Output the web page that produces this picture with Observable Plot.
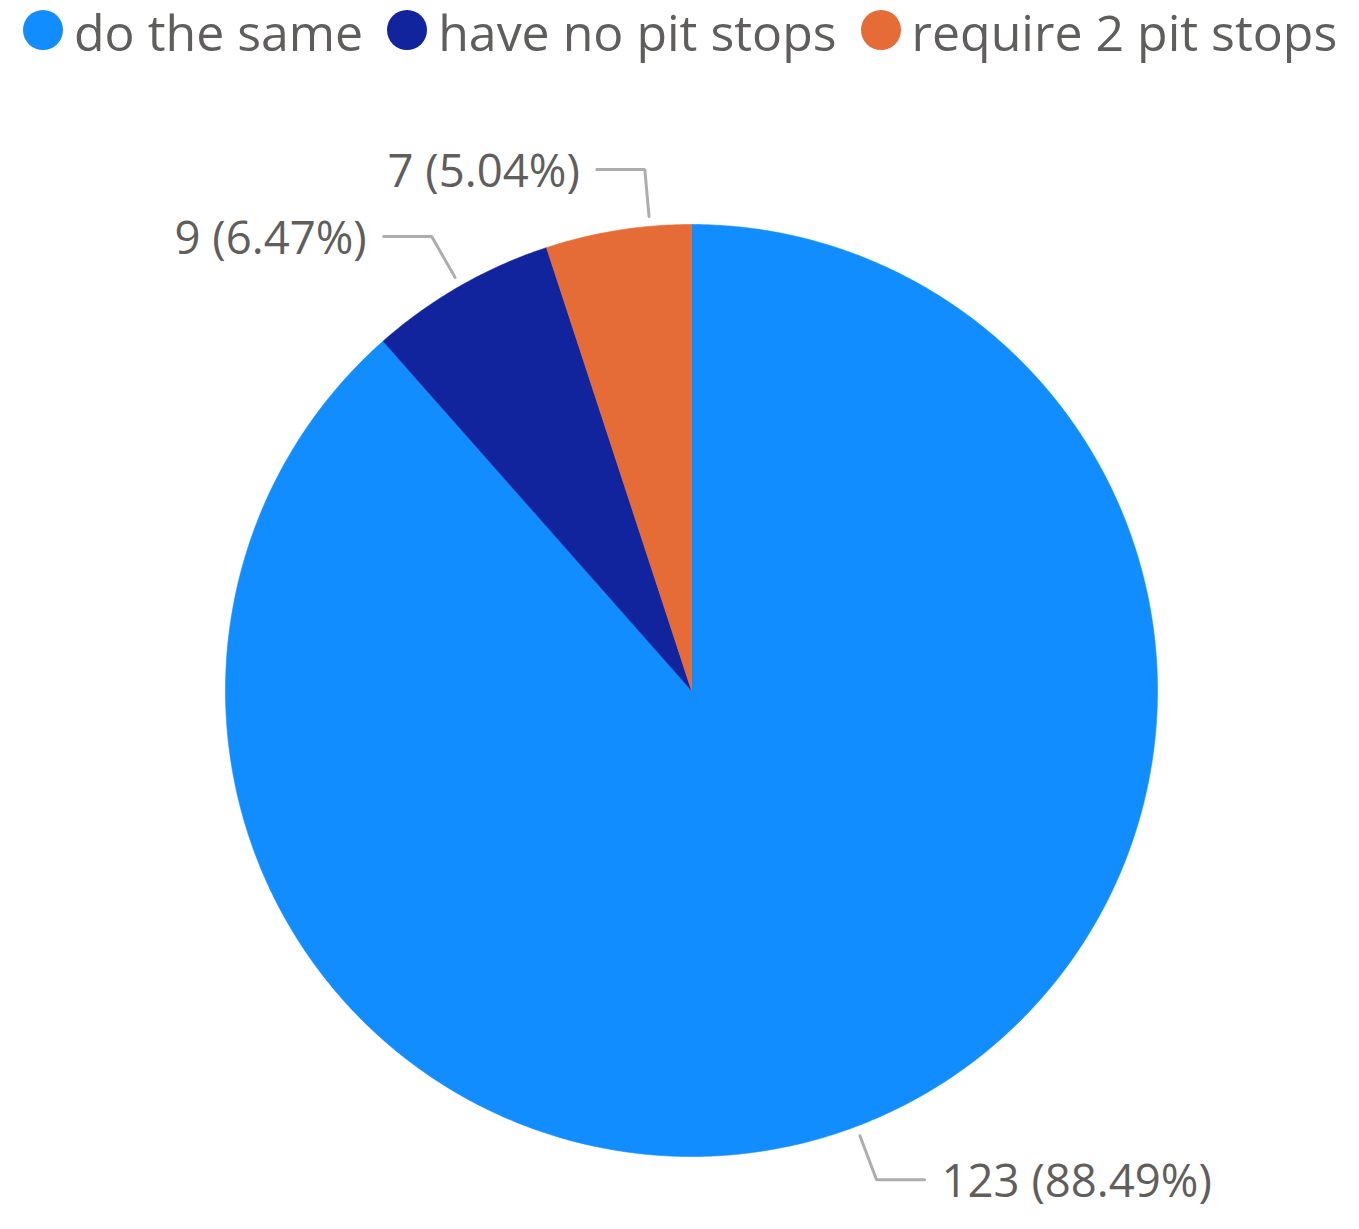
<!DOCTYPE html>
<html>
<head>
<meta charset="utf-8">
<script src="https://cdn.jsdelivr.net/npm/d3@7"></script>
<script src="https://cdn.jsdelivr.net/npm/@observablehq/plot@0.6"></script>
<style>
  html, body { margin: 0; padding: 0; background: #fff; }
  body { width: 1359px; height: 1229px; overflow: hidden; font-family: "Open Sans", "Noto Sans", sans-serif; }
  #legend { height: 64px; display: flex; align-items: center; padding-left: 23px; box-sizing: border-box; }
  .item { display: flex; align-items: center; margin-right: 24px; }
  .sw { width: 40px; height: 40px; border-radius: 50%; margin-right: 11px; position: relative; top: -2px; }
  .lab { font-size: 50px; font-weight: 400; color: #605E5C; line-height: 64px; position: relative; top: 0px; white-space: nowrap; }
  #chart svg { display: block; }
</style>
</head>
<body>
<div id="legend"></div>
<div id="chart"></div>
<script>
// ---- data ----
const categories = ["do the same", "have no pit stops", "require 2 pit stops"];
const counts = [123, 9, 7];
const percents = ["88.49%", "6.47%", "5.04%"];
const colors = ["#118DFF", "#12239E", "#E66C37"];

// ---- layout constants ----
const W = 1359, H = 1229 - 64;
const cx = 691, cy = 626, R = 466;          // pixel center & radius
const r0 = 476 / R, r1 = 523 / R;           // leader start / elbow radii (units)
const hLen = 48 / R, tGap = 17 / R;         // horizontal leader length, text gap
const minGap = 67 / R;                      // min vertical distance between labels

// legend
const legend = document.getElementById("legend");
categories.forEach((c, i) => {
  const it = document.createElement("div"); it.className = "item";
  const sw = document.createElement("div"); sw.className = "sw"; sw.style.background = colors[i];
  const lb = document.createElement("div"); lb.className = "lab"; lb.textContent = c;
  it.appendChild(sw); it.appendChild(lb); legend.appendChild(it);
});

// slices from d3.pie (angles clockwise from 12 o'clock)
const data = categories.map((c, i) => ({cat: c, value: counts[i], pct: percents[i]}));
const arcs = d3.pie().sort(null).value(d => d.value)(data);
const slicePts = [];
arcs.forEach(a => {
  const n = Math.max(4, Math.ceil((a.endAngle - a.startAngle) / (Math.PI / 360)));
  slicePts.push({cat: a.data.cat, x: 0, y: 0});
  for (let k = 0; k <= n; k++) {
    const t = a.startAngle + (a.endAngle - a.startAngle) * k / n;
    slicePts.push({cat: a.data.cat, x: Math.sin(t), y: Math.cos(t)});
  }
  slicePts.push({cat: a.data.cat, x: 0, y: 0});
});

// label layout with simple collision avoidance
const labels = arcs.map(a => {
  const m = (a.startAngle + a.endAngle) / 2;
  return {cat: a.data.cat, text: `${a.data.value} (${a.data.pct})`, side: Math.sin(m) >= 0 ? 1 : -1, ey: r1 * Math.cos(m)};
});
[1, -1].forEach(side => {
  const L = labels.filter(l => l.side === side).sort((a, b) => a.ey - b.ey);
  for (let i = 1; i < L.length; i++) {
    if (L[i].ey - L[i - 1].ey < minGap) L[i].ey = L[i - 1].ey + minGap;
  }
});
const leader = [];
labels.forEach(l => {
  const c = Math.max(-1, Math.min(1, l.ey / r1));
  const sx = l.side * Math.sqrt(1 - c * c);
  const ex = r1 * sx, ey = r1 * c;
  leader.push({cat: l.cat, x: r0 * sx, y: r0 * c});
  leader.push({cat: l.cat, x: ex, y: ey});
  leader.push({cat: l.cat, x: ex + l.side * hLen, y: ey});
  l.tx = ex + l.side * (hLen + tGap);
  l.ty = ey;
});

const chart = Plot.plot({
  width: W, height: H,
  margin: 0,
  x: {domain: [-cx / R, (W - cx) / R], range: [0, W], axis: null},
  y: {domain: [-(H - cy) / R, cy / R], range: [H, 0], axis: null},
  color: {domain: categories, range: colors},
  style: {fontFamily: "'Open Sans', 'Noto Sans', sans-serif", background: "white"},
  marks: [
    Plot.line(slicePts, {x: "x", y: "y", z: "cat", fill: "cat", stroke: "cat", strokeWidth: 0.6, curve: "linear"}),
    Plot.line(leader, {x: "x", y: "y", z: "cat", stroke: "#ADADAD", strokeWidth: 3, strokeLinejoin: "miter", strokeLinecap: "round"}),
    Plot.text(labels.filter(l => l.side > 0), {x: "tx", y: "ty", text: "text", textAnchor: "start", fontSize: 45.5, fill: "#605E5C", dy: 3}),
    Plot.text(labels.filter(l => l.side < 0), {x: "tx", y: "ty", text: "text", textAnchor: "end", fontSize: 45.5, fill: "#605E5C", dy: 3})
  ]
});
document.getElementById("chart").appendChild(chart);
</script>
</body>
</html>
